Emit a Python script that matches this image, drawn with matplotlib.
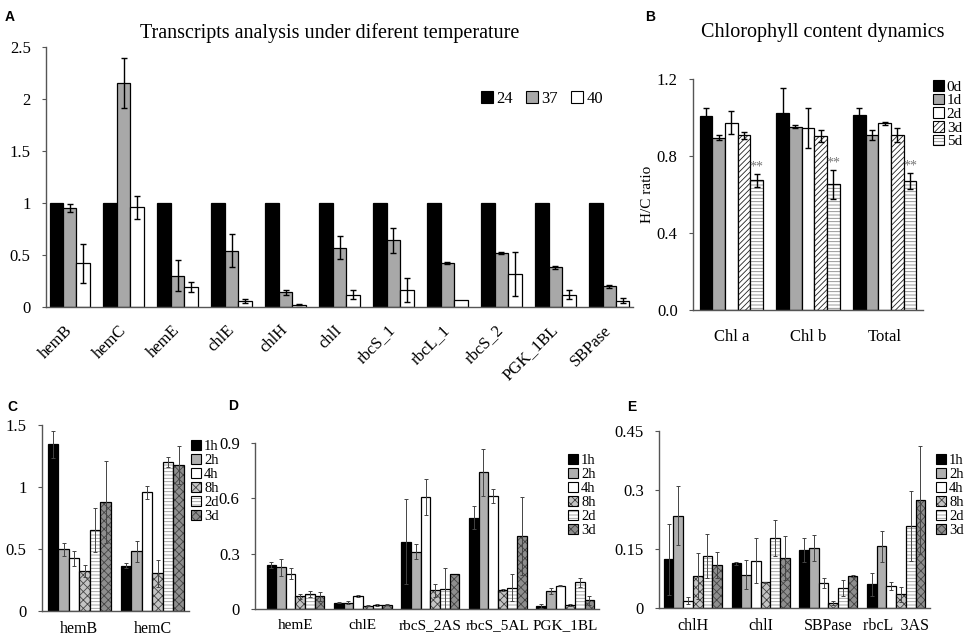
import matplotlib
matplotlib.use("Agg")
import matplotlib.pyplot as plt
from matplotlib.patches import Patch
from matplotlib.legend_handler import HandlerTuple
import numpy as np

plt.rcParams['font.family'] = ['Liberation Serif', 'DejaVu Serif']
plt.rcParams['hatch.linewidth'] = 0.6

# ---------------- data ----------------
genesA = ['hemB', 'hemC', 'hemE', 'chlE', 'chlH', 'chlI', 'rbcS_1', 'rbcL_1', 'rbcS_2', 'PGK_1BL', 'SBPase']
seriesA = ['24', '37', '40']
a24 = [1, 1, 1, 1, 1, 1, 1, 1, 1, 1, 1]
a24_err = [0, 0, 0, 0, 0, 0, 0, 0, 0, 0, 0]
a37 = [0.95, 2.15, 0.30, 0.54, 0.14, 0.57, 0.64, 0.42, 0.52, 0.38, 0.20]
a37_err = [0.04, 0.24, 0.15, 0.16, 0.02, 0.11, 0.12, 0.01, 0.01, 0.01, 0.015]
a40 = [0.42, 0.96, 0.19, 0.06, 0.02, 0.12, 0.16, 0.07, 0.32, 0.12, 0.06]
a40_err = [0.19, 0.11, 0.05, 0.02, 0.005, 0.045, 0.115, 0, 0.21, 0.04, 0.025]

groupsB = ['Chl a', 'Chl b', 'Total']
seriesB = ['0d', '1d', '2d', '3d', '5d']
b0d = [1.01, 1.025, 1.015]
b0d_err = [0.04, 0.127, 0.036]
b1d = [0.895, 0.953, 0.91]
b1d_err = [0.012, 0.008, 0.026]
b2d = [0.974, 0.944, 0.969]
b2d_err = [0.062, 0.105, 0.006]
b3d = [0.908, 0.904, 0.908]
b3d_err = [0.018, 0.03, 0.037]
b5d = [0.675, 0.652, 0.67]
b5d_err = [0.034, 0.075, 0.04]
signifB = ['**', '**', '**']

seriesT = ['1h', '2h', '4h', '8h', '2d', '3d']

genesC = ['hemB', 'hemC']
c1h = [1.344, 0.366]; c1h_err = [0.11, 0.02]
c2h = [0.497, 0.48]; c2h_err = [0.05, 0.087]
c4h = [0.425, 0.957]; c4h_err = [0.06, 0.054]
c8h = [0.325, 0.304]; c8h_err = [0.05, 0.108]
c2d = [0.653, 1.204]; c2d_err = [0.18, 0.04]
c3d = [0.876, 1.177]; c3d_err = [0.33, 0.15]

genesD = ['hemE', 'chlE', 'rbcS_2AS', 'rbcS_5AL', 'PGK_1BL']
d1h = [0.24, 0.033, 0.365, 0.495, 0.018]; d1h_err = [0.015, 0.003, 0.23, 0.063, 0.01]
d2h = [0.226, 0.033, 0.311, 0.741, 0.098]; d2h_err = [0.045, 0.008, 0.04, 0.127, 0.015]
d4h = [0.19, 0.069, 0.606, 0.613, 0.127]; d4h_err = [0.03, 0.006, 0.098, 0.04, 0.004]
d8h = [0.069, 0.018, 0.101, 0.101, 0.022]; d8h_err = [0.015, 0.003, 0.034, 0.005, 0.005]
d2d = [0.081, 0.022, 0.11, 0.116, 0.145]; d2d_err = [0.015, 0.005, 0.11, 0.072, 0.025]
d3d = [0.069, 0.022, 0.188, 0.396, 0.047]; d3d_err = [0.025, 0.003, 0, 0.213, 0.025]

genesE = ['chlH', 'chlI', 'SBPase', 'rbcL  3AS']
e1h = [0.124, 0.114, 0.148, 0.06]; e1h_err = [0.09, 0.004, 0.03, 0.03]
e2h = [0.235, 0.085, 0.153, 0.157]; e2h_err = [0.074, 0.036, 0.033, 0.04]
e4h = [0.019, 0.12, 0.064, 0.056]; e4h_err = [0.01, 0.057, 0.013, 0.01]
e8h = [0.082, 0.065, 0.013, 0.035]; e8h_err = [0.058, 0.002, 0.005, 0.019]
e2d = [0.132, 0.178, 0.051, 0.208]; e2d_err = [0.056, 0.047, 0.02, 0.089]
e3d = [0.109, 0.127, 0.081, 0.274]; e3d_err = [0.033, 0.055, 0.003, 0.137]

# ---------------- styles ----------------
styleA = [dict(fc='black', hatch=None, hc='black'),
          dict(fc='#a8a8a8', hatch=None, hc='black'),
          dict(fc='white', hatch=None, hc='black')]
styleB = [dict(fc='black', hatch=None, hc='black'),
          dict(fc='#a8a8a8', hatch=None, hc='black'),
          dict(fc='white', hatch=None, hc='black'),
          dict(fc='white', hatch='//////', hc='#222222'),
          dict(fc='white', hatch='-----', hc='#888888')]
styleT = [dict(fc='black', hatch=None, hc='black'),
          dict(fc='#b0b0b0', hatch=None, hc='black'),
          dict(fc='white', hatch=None, hc='black'),
          dict(fc='#c4c4c4', hatch='xxxx', hc='#444444'),
          dict(fc='white', hatch='-----', hc='#999999'),
          dict(fc='#8e8e8e', hatch='xxxx', hc='#444444')]

W, H = 964, 638
fig = plt.figure(figsize=(W / 100, H / 100), dpi=100)


def rect(l, t, r, b):
    return [l / W, 1 - b / H, (r - l) / W, (b - t) / H]


def make_ax(l, t, r, b, xfs=12, xpad=10):
    ax = fig.add_axes(rect(l, t, r, b))
    for s in ['top', 'right']:
        ax.spines[s].set_visible(False)
    for s in ['left', 'bottom']:
        ax.spines[s].set_color('#555555')
        ax.spines[s].set_linewidth(1.0)
    ax.tick_params(axis='y', length=3, width=0.8, color='#555555', labelsize=12, pad=8)
    ax.tick_params(axis='x', length=0, labelsize=xfs, pad=xpad)
    return ax


def draw(ax, vals, errs, styles, width, ecolor, elw, cap, lw=0.9):
    n = len(vals)
    handles = []
    for j, (v, e, st) in enumerate(zip(vals, errs, styles)):
        x = np.arange(len(v)) + (j - (n - 1) / 2) * width
        if st['hatch']:
            ax.bar(x, v, width, color=st['fc'], edgecolor=st['hc'], hatch=st['hatch'], linewidth=0)
            ax.bar(x, v, width, fill=False, edgecolor='black', linewidth=lw)
            h = (Patch(facecolor=st['fc'], edgecolor=st['hc'], hatch=st['hatch'], linewidth=0),
                 Patch(fill=False, edgecolor='black', linewidth=0.8))
        else:
            ax.bar(x, v, width, color=st['fc'], edgecolor='black', linewidth=lw)
            h = Patch(facecolor=st['fc'], edgecolor='black', linewidth=0.8)
        ea = np.array(e, dtype=float)
        m = ea > 0
        if m.any():
            ax.errorbar(x[m], np.array(v)[m], yerr=ea[m], fmt='none', ecolor=ecolor,
                        elinewidth=elw, capsize=cap, capthick=elw)
        handles.append(h)
    return handles


def legend(handles, labels, x, y, fs, ls, loc='upper left', ncol=1, cs=1.0, tp=0.3):
    fig.legend(handles, labels, loc=loc, bbox_to_anchor=(x / W, 1 - y / H),
               bbox_transform=fig.transFigure, frameon=False, borderpad=0, borderaxespad=0,
               handlelength=0.7, handleheight=0.7, handletextpad=tp, labelspacing=ls,
               fontsize=fs, ncol=ncol, columnspacing=cs,
               handler_map={tuple: HandlerTuple(ndivide=1, pad=0)})


# ---------- Panel A ----------
axA = make_ax(46, 47, 633, 307)
hA = draw(axA, [a24, a37, a40], [a24_err, a37_err, a40_err], styleA, 0.25, 'black', 1.0, 2)
axA.set_xlim(-0.44, 10.44)
axA.set_ylim(0, 2.5)
axA.set_yticks([0, 0.5, 1, 1.5, 2, 2.5])
axA.set_yticklabels(['0', '0.5', '1', '1.5', '2', '2.5'])
axA.set_xticks(np.arange(len(genesA)))
axA.set_xticklabels(genesA, rotation=45, ha='right', va='center', rotation_mode='anchor')
axA.tick_params(axis='x', pad=15)
fig.text(330 / W, 1 - 33 / H, 'Transcripts analysis under diferent temperature',
         ha='center', va='center', fontsize=14.5)
legend(hA, seriesA, 542, 99, 12, 0.2, loc='center', ncol=3, cs=0.8, tp=0.2)

# ---------- Panel B ----------
axB = make_ax(693, 79, 923, 310)
hB = draw(axB, [b0d, b1d, b2d, b3d, b5d], [b0d_err, b1d_err, b2d_err, b3d_err, b5d_err],
          styleB, 0.165, 'black', 1.0, 2)
axB.set_xlim(-0.5, 2.5)
axB.set_ylim(0, 1.2)
axB.set_yticks([0, 0.4, 0.8, 1.2])
axB.set_yticklabels(['0.0', '0.4', '0.8', '1.2'])
axB.set_xticks(np.arange(len(groupsB)))
axB.set_xticklabels(groupsB)
axB.tick_params(axis='x', pad=14)
axB.set_ylabel('H/C ratio', fontsize=11, labelpad=2)
for i, s in enumerate(signifB):
    xs = i + 2 * 0.165
    axB.text(xs, b5d[i] + b5d_err[i] + 0.002, s, ha='center', va='bottom', fontsize=10, color='#777777')
fig.text(823 / W, 1 - 33 / H, 'Chlorophyll content dynamics', ha='center', va='center', fontsize=14.5)
legend(hB, seriesB, 933, 80, 11, 0.0, tp=0.2)

# ---------- Panel C ----------
axC = make_ax(42, 425, 189, 611, xfs=11.5, xpad=7)
hC = draw(axC, [c1h, c2h, c4h, c8h, c2d, c3d],
          [c1h_err, c2h_err, c4h_err, c8h_err, c2d_err, c3d_err], styleT, 0.144, '#444444', 0.7, 1.2)
axC.set_xlim(-0.51, 1.5)
axC.set_ylim(0, 1.5)
axC.set_yticks([0, 0.5, 1, 1.5])
axC.set_yticklabels(['0', '0.5', '1', '1.5'])
axC.set_xticks(np.arange(len(genesC)))
axC.set_xticklabels(genesC)
legend(hC, seriesT, 191, 440, 10.5, 0.05, tp=0.2)

# ---------- Panel D ----------
axD = make_ax(255, 443, 599, 609, xfs=11, xpad=7)
hD = draw(axD, [d1h, d2h, d4h, d8h, d2d, d3d],
          [d1h_err, d2h_err, d4h_err, d8h_err, d2d_err, d3d_err], styleT, 0.143, '#444444', 0.7, 1.2)
axD.set_xlim(-0.6, 4.5)
axD.set_ylim(0, 0.9)
axD.set_yticks([0, 0.3, 0.6, 0.9])
axD.set_yticklabels(['0', '0.3', '0.6', '0.9'])
axD.set_xticks(np.arange(len(genesD)))
axD.set_xticklabels(genesD)
legend(hD, seriesT, 568, 454, 10.5, 0.05, tp=0.2)

# ---------- Panel E ----------
axE = make_ax(659, 431, 930, 608, xfs=11.5, xpad=7)
hE = draw(axE, [e1h, e2h, e4h, e8h, e2d, e3d],
          [e1h_err, e2h_err, e4h_err, e8h_err, e2d_err, e3d_err], styleT, 0.143, '#444444', 0.7, 1.2)
axE.set_xlim(-0.5, 3.5)
axE.set_ylim(0, 0.45)
axE.set_yticks([0, 0.15, 0.3, 0.45])
axE.set_yticklabels(['0', '0.15', '0.3', '0.45'])
axE.set_xticks(np.arange(len(genesE)))
axE.set_xticklabels(genesE)
legend(hE, seriesT, 936, 454, 10.5, 0.05, tp=0.2)

# ---------- panel letters ----------
for lab, (x, y) in {'A': (10, 17), 'B': (650, 17), 'C': (12, 407), 'D': (233, 406), 'E': (632, 407)}.items():
    fig.text(x / W, 1 - y / H, lab, ha='center', va='center', fontsize=10,
             fontweight='bold', family=['Liberation Sans', 'DejaVu Sans'])

fig.savefig('out.png', dpi=100)
